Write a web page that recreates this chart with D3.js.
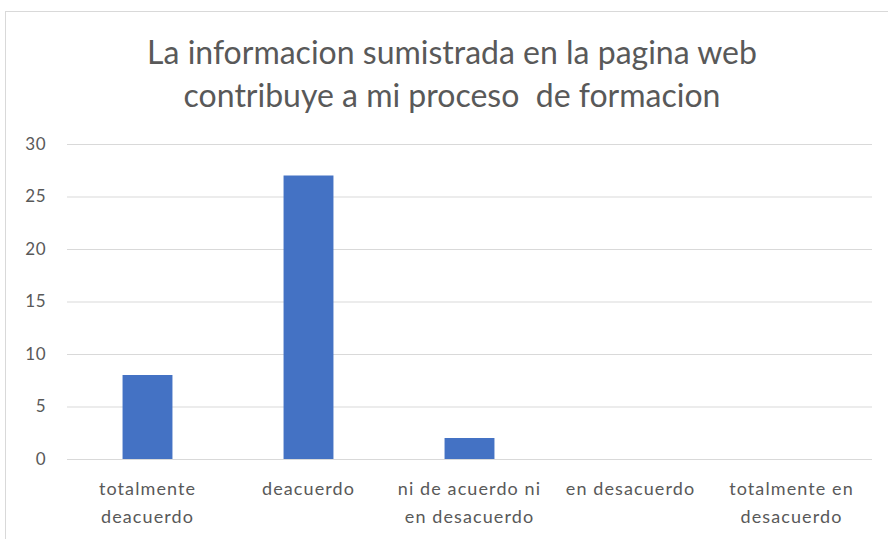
<!DOCTYPE html>
<html><head><meta charset="utf-8">
<script src="https://cdn.jsdelivr.net/npm/d3@7"></script>
<style>html,body{margin:0;padding:0;background:#fff;}svg{display:block;}</style>
</head><body>
<svg id="c" width="888" height="539"></svg>
<script>
const categories = ["totalmente deacuerdo","deacuerdo","ni de acuerdo ni en desacuerdo","en desacuerdo","totalmente en desacuerdo"];
const categoryLines = [["totalmente","deacuerdo"],["deacuerdo"],["ni de acuerdo ni","en desacuerdo"],["en desacuerdo"],["totalmente en","desacuerdo"]];
const values = [8, 27, 2, 0, 0];
const yTicks = [0,5,10,15,20,25,30];
const titleLines = ["La informacion sumistrada en la pagina web","contribuye a mi proceso  de formacion"];

const svg = d3.select("#c");
const font = "Lato, 'Open Sans', sans-serif";
svg.append("rect").attr("x",5.5).attr("y",11.5).attr("width",890).attr("height",540)
  .attr("fill","#fff").attr("stroke","#d9d9d9");

const m = {left:67, right:872, top:144, bottom:459};
const x = d3.scaleBand().domain(categories).range([m.left,m.right]).paddingInner(0.69).paddingOuter(0.345);
const y = d3.scaleLinear().domain([0,30]).range([m.bottom,m.top]);

svg.append("g").selectAll("line").data(yTicks).join("line")
  .attr("x1",m.left).attr("x2",m.right)
  .attr("y1",d=>y(d)+0.5).attr("y2",d=>y(d)+0.5)
  .attr("stroke","#d9d9d9").attr("stroke-width",1);

const ya = svg.append("g").attr("transform",`translate(${m.left},0)`)
  .call(d3.axisLeft(y).tickValues(yTicks).tickSize(0).tickPadding(21));
ya.select(".domain").remove();
ya.selectAll("text").attr("font-family",font).attr("font-size",17).attr("fill","#595959").attr("letter-spacing",0.5);

svg.append("g").selectAll("rect").data(values).join("rect")
  .attr("x",(d,i)=>x(categories[i])).attr("width",x.bandwidth())
  .attr("y",d=>y(d)).attr("height",d=>y(0)-y(d))
  .attr("fill","#4472C4");

const xa = svg.append("g");
categories.forEach((c,i)=>{
  const t = xa.append("text").attr("x",x(c)+x.bandwidth()/2).attr("text-anchor","middle")
    .attr("font-family",font).attr("font-size",18).attr("letter-spacing",1.1).attr("fill","#595959");
  categoryLines[i].forEach((l,j)=>t.append("tspan").attr("x",x(c)+x.bandwidth()/2).attr("y",495+j*28).text(l));
});

titleLines.forEach((l,i)=>{
  svg.append("text").attr("x",452).attr("y",64+i*43).attr("text-anchor","middle")
    .attr("font-family",font).attr("font-size",32).attr("fill","#595959")
    .style("white-space","pre").text(l);
});
</script>
</body></html>
